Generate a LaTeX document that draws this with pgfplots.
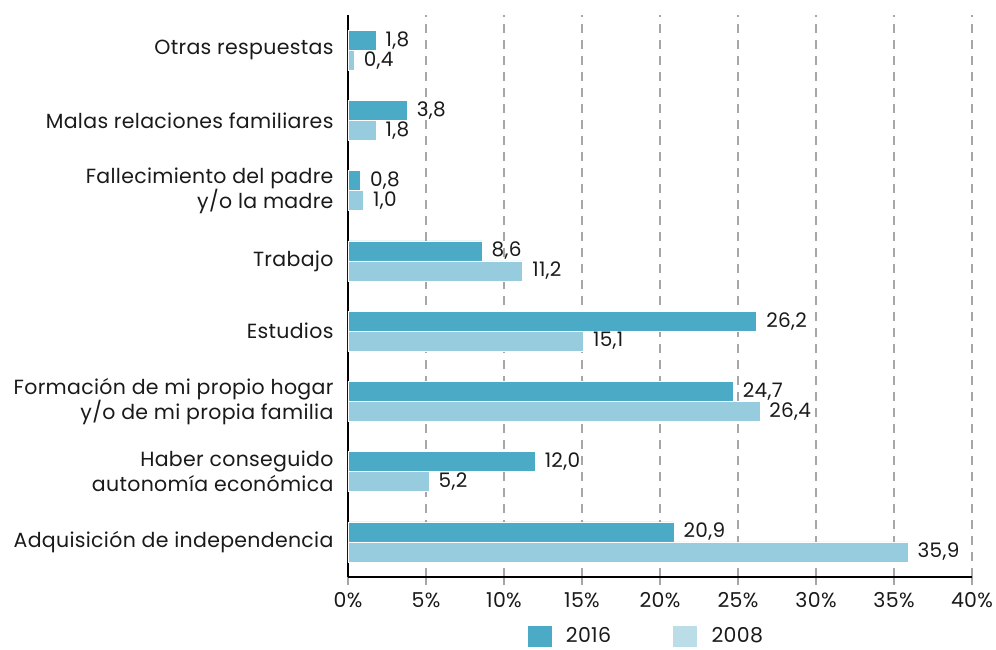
\documentclass[border=0pt]{standalone}
\usepackage{fontspec}
\setmainfont{Poppins}[LetterSpace=1.5]
\usepackage{pgfplots}
\pgfplotsset{compat=1.18}
\definecolor{cA}{HTML}{4BABC6}
\definecolor{cB}{HTML}{96CCDE}
\definecolor{cBl}{HTML}{BBDDE7}
\definecolor{gridc}{HTML}{A6A6A6}
\definecolor{txt}{HTML}{1A1A1A}
\begin{document}
\begin{tikzpicture}
\path[use as bounding box] (-348pt,-72pt) rectangle (648pt,577pt);
\begin{axis}[
  at={(0,0)}, anchor=south west,
  scale only axis, width=624pt, height=562pt,
  xmin=0, xmax=40, ymin=-0.5, ymax=7.5,
  xbar, bar width=20pt,
  /pgf/number format/assume math mode=true,
  axis x line*=bottom, axis y line*=left,
  axis line style={black, line width=1.2pt},
  xtick={0,5,...,40},
  xticklabel={\pgfmathprintnumber{\tick}\%},
  xticklabel style={font=\fontsize{20.5}{24}\selectfont, text=txt, yshift=-4pt},
  xtick style={gridc, line width=1.2pt},
  tick align=outside, major tick length=8pt,
  xmajorgrids, major x grid style={gridc, line width=1.2pt, dash pattern=on 9pt off 7pt},
  ytick={0,...,7},
  yticklabels={Adquisición de independencia, {Haber conseguido\\autonomía económica}, {Formación de mi propio hogar\\y/o de mi propia familia}, Estudios, Trabajo, {Fallecimiento del padre\\y/o la madre}, Malas relaciones familiares, Otras respuestas},
  yticklabel style={align=right, font=\fontsize{20.5}{25}\selectfont, text=txt, xshift=-3pt},
  ytick style={draw=none},
  extra y ticks={-0.5,0.5,...,7.5},
  extra y tick labels={},
  extra y tick style={major tick length=10pt, tick style={black, line width=1.2pt, draw=black}},
  nodes near coords,
  nodes near coords style={/pgf/number format/.cd, fixed, fixed zerofill, precision=1, use comma, /tikz/.cd, font=\fontsize{20}{24}\selectfont, text=txt, anchor=west, xshift=6pt},
  legend columns=2,
  legend style={at={(0.478,-0.105)}, anchor=center, draw=none, fill=none, font=\fontsize{20.5}{24}\selectfont, text=txt,
    /tikz/every even column/.append style={column sep=60pt}},
  legend cell align=left,
]
\addplot[fill=cA, draw=white, line width=0.5pt, bar shift=10pt, forget plot] coordinates {
  (20.9,0) (12.0,1) (24.7,2) (26.2,3) (8.6,4) (0.8,5) (3.8,6) (1.8,7)};
\addplot[fill=cB, draw=white, line width=0.5pt, bar shift=-10pt, forget plot] coordinates {
  (35.9,0) (5.2,1) (26.4,2) (15.1,3) (11.2,4) (1.0,5) (1.8,6) (0.4,7)};
\addlegendimage{legend image code/.code={\fill[cA] (0pt,-10pt) rectangle (23pt,10pt);}}
\addlegendentry{\hspace{13pt}2016}
\addlegendimage{legend image code/.code={\fill[cBl] (0pt,-10pt) rectangle (23pt,10pt);}}
\addlegendentry{\hspace{13pt}2008}
\end{axis}
\end{tikzpicture}
\end{document}
